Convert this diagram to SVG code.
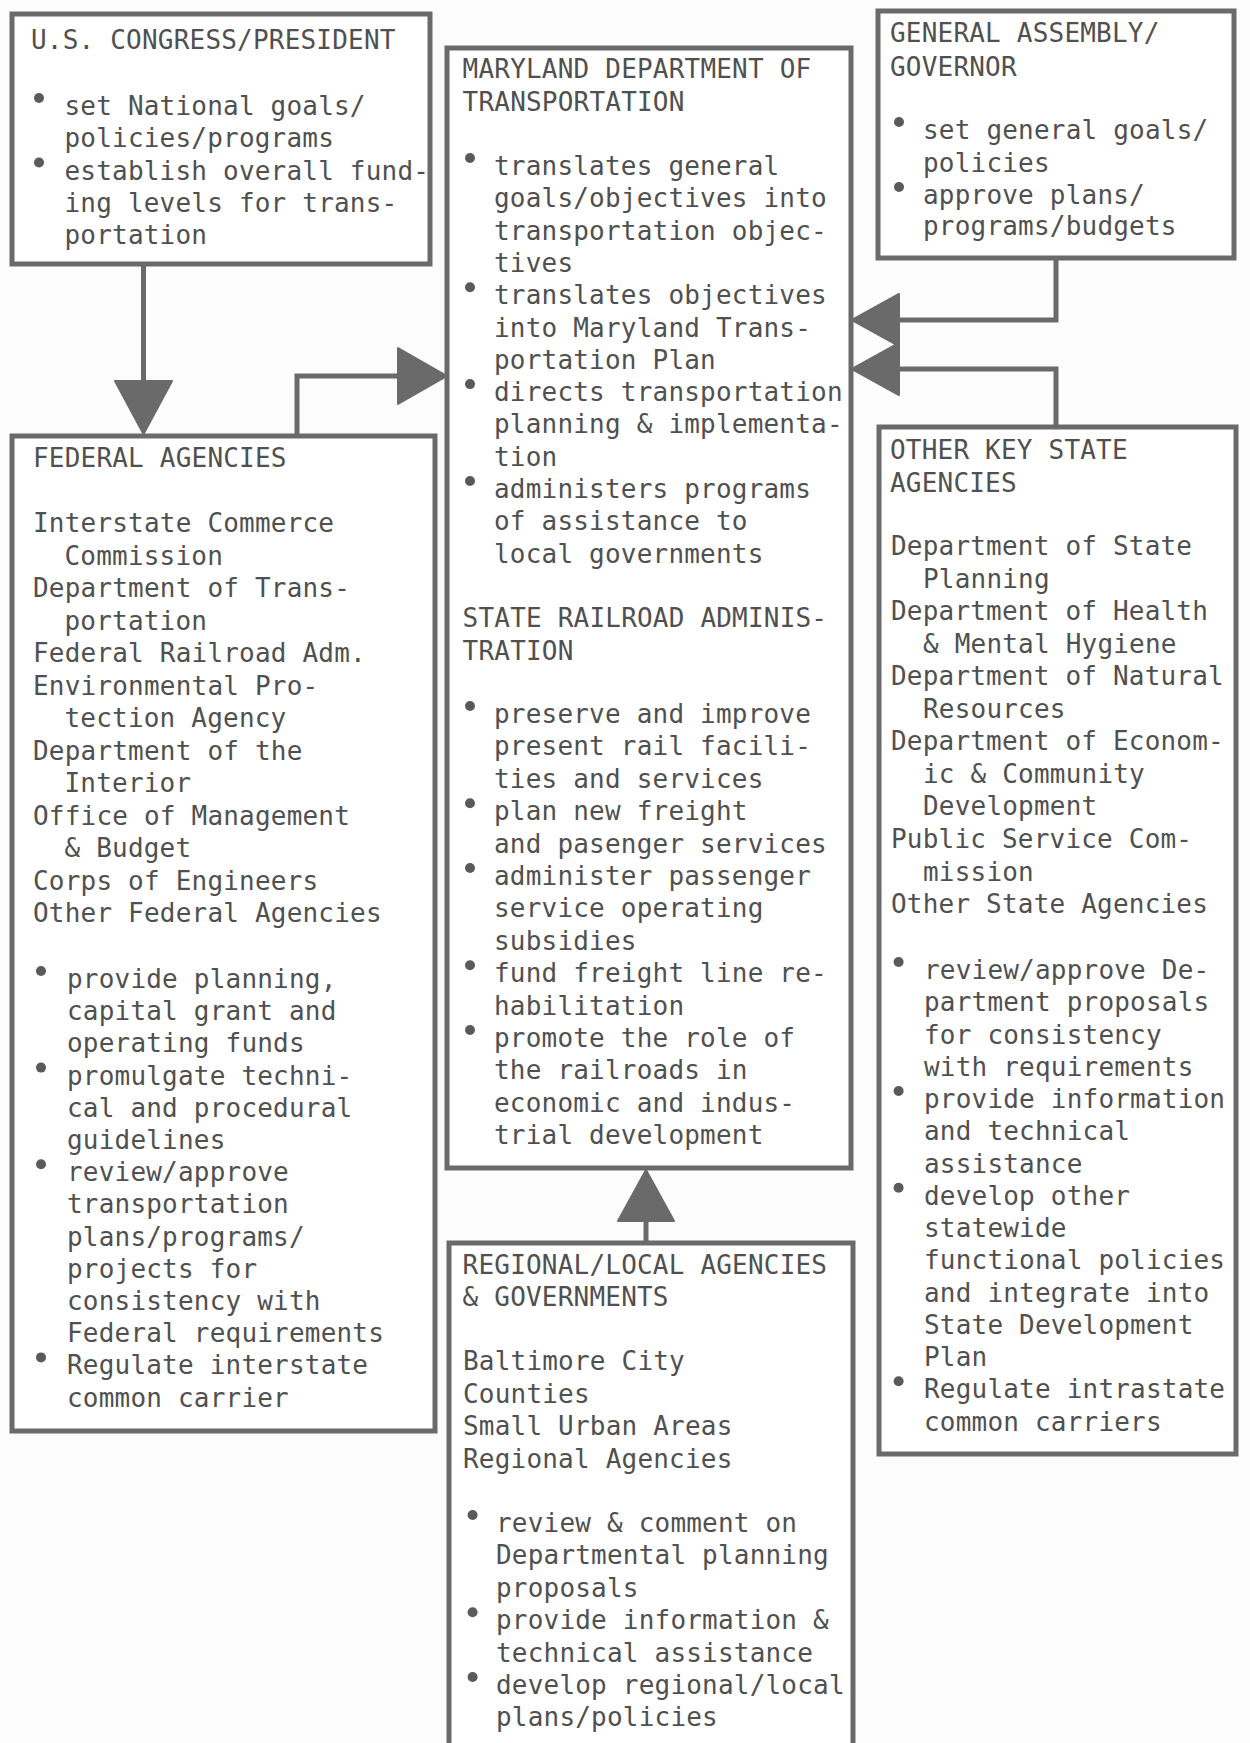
<svg xmlns="http://www.w3.org/2000/svg" width="1250" height="1743" viewBox="0 0 1250 1743">
<style>
.box{fill:#ffffff;stroke:#6a6a6a;stroke-width:5}
.t{font-family:"DejaVu Sans Mono",monospace;font-size:26px;letter-spacing:0.2px;fill:#505050}
.b{fill:#5a5a5a}
.ln{fill:none;stroke:#6a6a6a;stroke-width:5}
.ah{fill:#6a6a6a;stroke:#6a6a6a;stroke-width:2;stroke-linejoin:round}
</style>
<rect x="0" y="0" width="1250" height="1743" fill="#fcfcfc"/>

<g id="connectors">
<path class="ln" d="M143.5,264 V383"/>
<polygon class="ah" points="115,381 172,381 143.5,434"/>
<path class="ln" d="M297,436 V376 H400"/>
<polygon class="ah" points="398,348 398,404 447,376"/>
<path class="ln" d="M1056,258 V320 H897"/>
<polygon class="ah" points="899,294 899,346 852,320"/>
<path class="ln" d="M1056,427 V369 H897"/>
<polygon class="ah" points="899,343 899,395 852,369"/>
<path class="ln" d="M646,1243 V1219"/>
<polygon class="ah" points="618,1221 674,1221 646,1170"/>
</g>

<g id="congress">
<rect class="box" x="12" y="14" width="418" height="250"/>
<text class="t" x="31" y="49">U.S. CONGRESS/PRESIDENT</text>
<circle class="b" cx="39" cy="98" r="5"/>
<circle class="b" cx="39" cy="162.5" r="5"/>
<text class="t">
<tspan x="64.5" y="115">set National goals/</tspan>
<tspan x="64.5" y="147.3">policies/programs</tspan>
<tspan x="64.5" y="179.6">establish overall fund-</tspan>
<tspan x="64.5" y="211.9">ing levels for trans-</tspan>
<tspan x="64.5" y="244.2">portation</tspan>
</text>
</g>

<g id="general-assembly">
<rect class="box" x="878" y="11" width="356" height="247"/>
<text class="t"><tspan x="890" y="42">GENERAL ASSEMBLY/</tspan><tspan x="890" y="76">GOVERNOR</tspan></text>
<circle class="b" cx="899" cy="122" r="5"/>
<circle class="b" cx="899" cy="187" r="5"/>
<text class="t">
<tspan x="923" y="139">set general goals/</tspan>
<tspan x="923" y="171.5">policies</tspan>
<tspan x="923" y="204">approve plans/</tspan>
<tspan x="923" y="235">programs/budgets</tspan>
</text>
</g>

<g id="mdot">
<rect class="box" x="447" y="48" width="404" height="1120"/>
<text class="t"><tspan x="462.6" y="78">MARYLAND DEPARTMENT OF</tspan><tspan x="462.6" y="111">TRANSPORTATION</tspan></text>
<circle class="b" cx="470" cy="158" r="5"/>
<circle class="b" cx="470" cy="287.2" r="5"/>
<circle class="b" cx="470" cy="384.1" r="5"/>
<circle class="b" cx="470" cy="481" r="5"/>
<text class="t">
<tspan x="494" y="175">translates general</tspan>
<tspan x="494" y="207.3">goals/objectives into</tspan>
<tspan x="494" y="239.6">transportation objec-</tspan>
<tspan x="494" y="271.9">tives</tspan>
<tspan x="494" y="304.2">translates objectives</tspan>
<tspan x="494" y="336.5">into Maryland Trans-</tspan>
<tspan x="494" y="368.8">portation Plan</tspan>
<tspan x="494" y="401.1">directs transportation</tspan>
<tspan x="494" y="433.4">planning &amp; implementa-</tspan>
<tspan x="494" y="465.7">tion</tspan>
<tspan x="494" y="498">administers programs</tspan>
<tspan x="494" y="530.3">of assistance to</tspan>
<tspan x="494" y="562.6">local governments</tspan>
</text>
<text class="t"><tspan x="462.6" y="627">STATE RAILROAD ADMINIS-</tspan><tspan x="462.6" y="659.5">TRATION</tspan></text>
<circle class="b" cx="470" cy="706" r="5"/>
<circle class="b" cx="470" cy="803.2" r="5"/>
<circle class="b" cx="470" cy="868" r="5"/>
<circle class="b" cx="470" cy="965.2" r="5"/>
<circle class="b" cx="470" cy="1030" r="5"/>
<text class="t">
<tspan x="494" y="723">preserve and improve</tspan>
<tspan x="494" y="755.4">present rail facili-</tspan>
<tspan x="494" y="787.8">ties and services</tspan>
<tspan x="494" y="820.2">plan new freight</tspan>
<tspan x="494" y="852.6">and pasenger services</tspan>
<tspan x="494" y="885">administer passenger</tspan>
<tspan x="494" y="917.4">service operating</tspan>
<tspan x="494" y="949.8">subsidies</tspan>
<tspan x="494" y="982.2">fund freight line re-</tspan>
<tspan x="494" y="1014.6">habilitation</tspan>
<tspan x="494" y="1047">promote the role of</tspan>
<tspan x="494" y="1079.4">the railroads in</tspan>
<tspan x="494" y="1111.8">economic and indus-</tspan>
<tspan x="494" y="1144.2">trial development</tspan>
</text>
</g>

<g id="federal-agencies">
<rect class="box" x="12" y="436" width="423" height="995"/>
<text class="t" x="33" y="467">FEDERAL AGENCIES</text>
<text class="t">
<tspan x="33" y="532">Interstate Commerce</tspan>
<tspan x="64.5" y="564.5">Commission</tspan>
<tspan x="33" y="597">Department of Trans-</tspan>
<tspan x="64.5" y="629.5">portation</tspan>
<tspan x="33" y="662">Federal Railroad Adm.</tspan>
<tspan x="33" y="694.5">Environmental Pro-</tspan>
<tspan x="64.5" y="727">tection Agency</tspan>
<tspan x="33" y="759.5">Department of the</tspan>
<tspan x="64.5" y="792">Interior</tspan>
<tspan x="33" y="824.5">Office of Management</tspan>
<tspan x="64.5" y="857">&amp; Budget</tspan>
<tspan x="33" y="889.5">Corps of Engineers</tspan>
<tspan x="33" y="922">Other Federal Agencies</tspan>
</text>
<circle class="b" cx="41" cy="971" r="5"/>
<circle class="b" cx="41" cy="1067.6" r="5"/>
<circle class="b" cx="41" cy="1164.2" r="5"/>
<circle class="b" cx="41" cy="1357.4" r="5"/>
<text class="t">
<tspan x="67" y="988">provide planning,</tspan>
<tspan x="67" y="1020.2">capital grant and</tspan>
<tspan x="67" y="1052.4">operating funds</tspan>
<tspan x="67" y="1084.6">promulgate techni-</tspan>
<tspan x="67" y="1116.8">cal and procedural</tspan>
<tspan x="67" y="1149">guidelines</tspan>
<tspan x="67" y="1181.2">review/approve</tspan>
<tspan x="67" y="1213.4">transportation</tspan>
<tspan x="67" y="1245.6">plans/programs/</tspan>
<tspan x="67" y="1277.8">projects for</tspan>
<tspan x="67" y="1310">consistency with</tspan>
<tspan x="67" y="1342.2">Federal requirements</tspan>
<tspan x="67" y="1374.4">Regulate interstate</tspan>
<tspan x="67" y="1406.6">common carrier</tspan>
</text>
</g>

<g id="other-key-state-agencies">
<rect class="box" x="879" y="427" width="357" height="1027"/>
<text class="t"><tspan x="890" y="459">OTHER KEY STATE</tspan><tspan x="890" y="492">AGENCIES</tspan></text>
<text class="t">
<tspan x="891" y="555">Department of State</tspan>
<tspan x="923" y="587.6">Planning</tspan>
<tspan x="891" y="620.1">Department of Health</tspan>
<tspan x="923" y="652.7">&amp; Mental Hygiene</tspan>
<tspan x="891" y="685.2">Department of Natural</tspan>
<tspan x="923" y="717.8">Resources</tspan>
<tspan x="891" y="750.3">Department of Econom-</tspan>
<tspan x="923" y="782.9">ic &amp; Community</tspan>
<tspan x="923" y="815.4">Development</tspan>
<tspan x="891" y="848">Public Service Com-</tspan>
<tspan x="923" y="880.5">mission</tspan>
<tspan x="891" y="913">Other State Agencies</tspan>
</text>
<circle class="b" cx="898.6" cy="962" r="5"/>
<circle class="b" cx="898.6" cy="1091" r="5"/>
<circle class="b" cx="898.6" cy="1187.75" r="5"/>
<circle class="b" cx="898.6" cy="1381.25" r="5"/>
<text class="t">
<tspan x="924" y="979">review/approve De-</tspan>
<tspan x="924" y="1011.25">partment proposals</tspan>
<tspan x="924" y="1043.5">for consistency</tspan>
<tspan x="924" y="1075.75">with requirements</tspan>
<tspan x="924" y="1108">provide information</tspan>
<tspan x="924" y="1140.25">and technical</tspan>
<tspan x="924" y="1172.5">assistance</tspan>
<tspan x="924" y="1204.75">develop other</tspan>
<tspan x="924" y="1237">statewide</tspan>
<tspan x="924" y="1269.25">functional policies</tspan>
<tspan x="924" y="1301.5">and integrate into</tspan>
<tspan x="924" y="1333.75">State Development</tspan>
<tspan x="924" y="1366">Plan</tspan>
<tspan x="924" y="1398.25">Regulate intrastate</tspan>
<tspan x="924" y="1430.5">common carriers</tspan>
</text>
</g>

<g id="regional-local">
<rect class="box" x="449" y="1243" width="404" height="520"/>
<text class="t"><tspan x="462.6" y="1273.5">REGIONAL/LOCAL AGENCIES</tspan><tspan x="462.6" y="1306">&amp; GOVERNMENTS</tspan></text>
<text class="t">
<tspan x="463" y="1370">Baltimore City</tspan>
<tspan x="463" y="1402.5">Counties</tspan>
<tspan x="463" y="1435">Small Urban Areas</tspan>
<tspan x="463" y="1467.5">Regional Agencies</tspan>
</text>
<circle class="b" cx="472.6" cy="1515" r="5"/>
<circle class="b" cx="472.6" cy="1612.2" r="5"/>
<circle class="b" cx="472.6" cy="1677" r="5"/>
<text class="t">
<tspan x="496" y="1532">review &amp; comment on</tspan>
<tspan x="496" y="1564.4">Departmental planning</tspan>
<tspan x="496" y="1596.8">proposals</tspan>
<tspan x="496" y="1629.2">provide information &amp;</tspan>
<tspan x="496" y="1661.6">technical assistance</tspan>
<tspan x="496" y="1694">develop regional/local</tspan>
<tspan x="496" y="1726.4">plans/policies</tspan>
</text>
</g>
</svg>
